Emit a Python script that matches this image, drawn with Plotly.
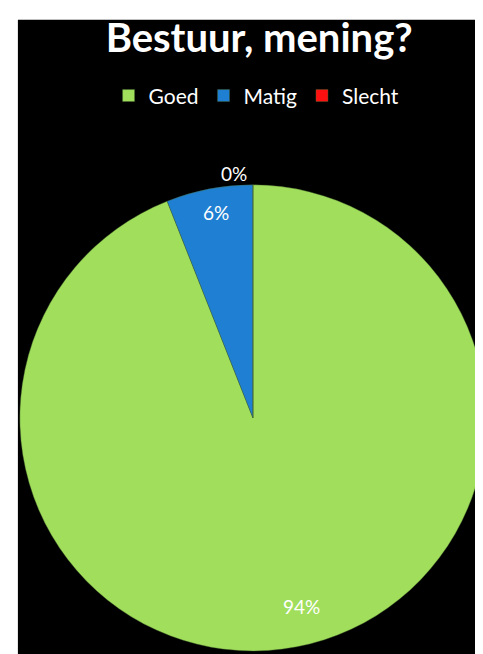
import plotly.graph_objects as go

labels = ["Goed", "Matig", "Slecht"]
values = [94, 6, 0]
colors = ["#A0DE5C", "#1F7FD2", "#FF1010"]

W, H = 483, 654

# label templates: pad the big slice's text so it sits lower/right like the original
pad = "\u00a0<br>" * 6
templates = [pad + "\u00a0" * 11 + "%{percent}",
             "%{percent}<br>\u00a0",
             "%{percent}"]

fig = go.Figure(go.Pie(
    labels=labels,
    values=values,
    sort=False,
    direction="clockwise",
    rotation=0,
    marker=dict(colors=colors, line=dict(color="#4a6a30", width=0.4)),
    texttemplate=templates,
    textposition=["inside", "inside", "outside"],
    insidetextorientation="horizontal",
    textfont=dict(family="Lato", size=19, color="white"),
    outsidetextfont=dict(family="Lato", size=19, color="white"),
    domain=dict(x=[12 / W, 1.0], y=[0, 478 / H]),
    hoverinfo="label+percent",
))

fig.update_layout(
    width=W, height=H,
    margin=dict(l=0, r=0, t=0, b=0),
    paper_bgcolor="white",
    plot_bgcolor="black",
    title=dict(text="<b>Bestuur, mening?</b>", x=0.52, xanchor="center",
               y=1 - 30 / H, yanchor="middle",
               font=dict(family="Lato", size=40, color="white")),
    legend=dict(orientation="h", x=0.52, xanchor="center",
                y=1 - 89 / H, yanchor="middle",
                font=dict(family="Lato", size=21, color="white"),
                itemwidth=30, bgcolor="rgba(0,0,0,0)"),
    shapes=[dict(type="rect", xref="paper", yref="paper", layer="below",
                 x0=10 / W, x1=1, y0=0, y1=1 - 12 / H,
                 fillcolor="black", line=dict(width=0))],
)

fig.write_html("out.html")
